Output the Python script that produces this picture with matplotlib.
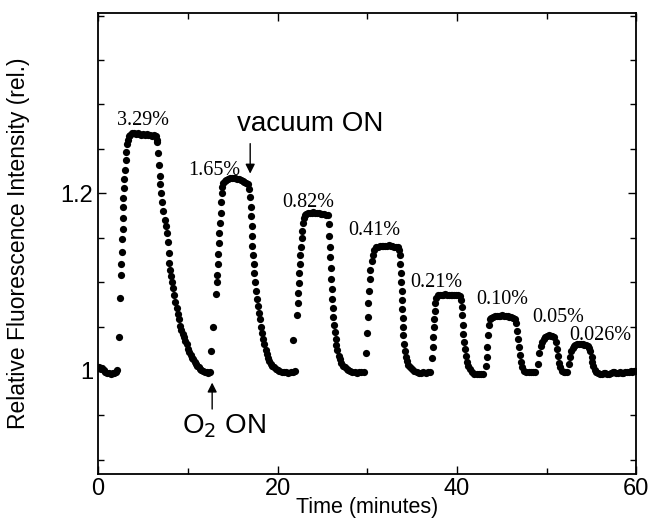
import matplotlib.pyplot as plt
from matplotlib.ticker import MultipleLocator
import numpy as np

# 数据 (time in minutes, relative fluorescence)
t_base = [0.0, 0.15, 0.3, 0.45, 0.6, 0.8, 1.0, 1.2, 1.4, 1.6, 1.8, 2.0, 2.15]
v_base = [1.003, 1.004, 1.002, 1.003, 1.001, 0.999, 0.998, 0.998, 0.997, 0.998, 0.998, 0.999, 1.001]

# pulse 1 (3.29%)
t_p1 = [2.3, 2.45, 2.55, 2.6, 2.65, 2.68, 2.72, 2.75, 2.78, 2.82, 2.88, 2.92, 2.98, 3.05, 3.12, 3.2, 3.3, 3.45,
        3.6, 3.8, 4.0, 4.2, 4.4, 4.6, 4.8, 5.0, 5.2, 5.4, 5.6, 5.8, 6.0, 6.2, 6.4, 6.55,
        6.6, 6.68, 6.76, 6.84, 6.92, 7.02, 7.14, 7.28, 7.4, 7.55, 7.65, 7.75, 7.85, 7.95, 8.05, 8.15, 8.25,
        8.38, 8.5, 8.62, 8.75, 8.88, 9.0, 9.14, 9.28, 9.42, 9.56, 9.7, 9.85, 10.0, 10.15, 10.3, 10.45, 10.6,
        10.75, 10.9, 11.05, 11.2, 11.35, 11.5, 11.7, 11.9, 12.1, 12.3, 12.5]
v_p1 = [1.038, 1.082, 1.108, 1.12, 1.134, 1.148, 1.16, 1.172, 1.184, 1.195, 1.206, 1.216, 1.226, 1.237, 1.247, 1.255, 1.26, 1.264,
        1.266, 1.268, 1.268, 1.267, 1.268, 1.267, 1.266, 1.267, 1.266, 1.267, 1.266, 1.266, 1.265, 1.266, 1.264, 1.26,
        1.258, 1.245, 1.232, 1.22, 1.21, 1.2, 1.19, 1.18, 1.17, 1.163, 1.155, 1.145, 1.133, 1.122, 1.114, 1.107, 1.1,
        1.093, 1.085, 1.078, 1.071, 1.064, 1.058, 1.051, 1.046, 1.042, 1.038, 1.034, 1.03, 1.025, 1.021, 1.018, 1.015, 1.013,
        1.01, 1.008, 1.006, 1.004, 1.002, 1.001, 1.0, 0.999, 0.999, 0.998, 0.999]

# pulse 2 (1.65%)
t_p2 = [12.6, 12.85, 13.15, 13.2, 13.3, 13.35, 13.4, 13.45, 13.5, 13.58, 13.65, 13.72, 13.78, 13.85, 13.95,
        14.1, 14.3, 14.5, 14.7, 14.9, 15.1, 15.3, 15.5, 15.7, 15.9, 16.1, 16.3, 16.5, 16.7,
        16.85, 16.95, 17.0, 17.05, 17.1, 17.15, 17.2, 17.27, 17.34, 17.42, 17.5, 17.6, 17.7, 17.8, 17.9, 18.0,
        18.12, 18.25, 18.38, 18.52, 18.66, 18.8, 18.95, 19.1, 19.25, 19.4, 19.6, 19.8, 20.0, 20.2, 20.45, 20.7,
        20.95, 21.2, 21.45, 21.7, 21.9]
v_p2 = [1.022, 1.05, 1.087, 1.1, 1.108, 1.12, 1.132, 1.144, 1.155, 1.166, 1.178, 1.19, 1.2, 1.207, 1.212,
        1.214, 1.215, 1.216, 1.217, 1.217, 1.217, 1.217, 1.216, 1.216, 1.215, 1.214, 1.213, 1.212, 1.21,
        1.205, 1.196, 1.185, 1.174, 1.163, 1.152, 1.141, 1.13, 1.12, 1.11, 1.1, 1.09, 1.081, 1.073, 1.065, 1.058,
        1.05, 1.043, 1.036, 1.03, 1.024, 1.019, 1.015, 1.011, 1.008, 1.006, 1.004, 1.002, 1.001, 1.0, 0.999, 0.999,
        0.999, 0.998, 0.999, 0.999, 1.0]

# pulse 3 (0.82%)
t_p3 = [21.75, 22.15, 22.25, 22.3, 22.35, 22.4, 22.45, 22.52, 22.6, 22.68, 22.76, 22.84, 22.92, 23.05,
        23.2, 23.4, 23.6, 23.8, 24.0, 24.2, 24.4, 24.6, 24.8, 25.0, 25.2, 25.4, 25.6,
        25.72, 25.78, 25.84, 25.9, 25.95, 26.0, 26.05, 26.1, 26.15, 26.22, 26.3, 26.38, 26.47, 26.57, 26.68,
        26.8, 26.95, 27.1, 27.3, 27.5, 27.7, 27.9, 28.1, 28.35, 28.6, 28.85, 29.1, 29.35, 29.6]
v_p3 = [1.035, 1.063, 1.077, 1.088, 1.099, 1.11, 1.12, 1.13, 1.14, 1.15, 1.158, 1.166, 1.172, 1.176,
        1.177, 1.178, 1.178, 1.178, 1.179, 1.178, 1.178, 1.178, 1.177, 1.177, 1.177, 1.176, 1.175,
        1.165, 1.152, 1.14, 1.128, 1.116, 1.104, 1.092, 1.081, 1.071, 1.061, 1.052, 1.044, 1.036, 1.029, 1.023,
        1.017, 1.013, 1.009, 1.006, 1.004, 1.002, 1.001, 1.0, 0.999, 0.999, 0.998, 0.999, 0.999, 0.999]

# pulse 4 (0.41%)
t_p4 = [29.85, 30.0, 30.05, 30.12, 30.2, 30.3, 30.36, 30.5, 30.65, 30.8,
        31.0, 31.2, 31.4, 31.6, 31.8, 32.0, 32.2, 32.4, 32.6, 32.8, 33.0, 33.2, 33.4, 33.55,
        33.65, 33.7, 33.74, 33.78, 33.82, 33.86, 33.9, 33.94, 33.98, 34.03, 34.1, 34.18, 34.28, 34.4, 34.55,
        34.75, 35.0, 35.25, 35.5, 35.75, 36.0, 36.25, 36.5, 36.75, 37.0]
v_p4 = [1.02, 1.043, 1.061, 1.077, 1.09, 1.103, 1.114, 1.124, 1.131, 1.136,
        1.139, 1.14, 1.141, 1.141, 1.141, 1.141, 1.141, 1.142, 1.141, 1.141, 1.14, 1.14, 1.139, 1.136,
        1.13, 1.12, 1.11, 1.1, 1.09, 1.08, 1.07, 1.06, 1.05, 1.04, 1.03, 1.022, 1.016, 1.011, 1.007,
        1.004, 1.002, 1.0, 0.999, 0.998, 0.998, 0.999, 0.998, 0.999, 0.999]

# pulse 5 (0.21%)
t_p5 = [37.2, 37.28, 37.35, 37.4, 37.46, 37.52, 37.6, 37.72,
        37.9, 38.1, 38.3, 38.5, 38.7, 38.9, 39.1, 39.3, 39.5, 39.7, 39.9, 40.1, 40.3, 40.45,
        40.55, 40.6, 40.66, 40.72, 40.8, 40.9, 41.0, 41.12, 41.25, 41.45, 41.7, 41.95, 42.2, 42.45, 42.7, 42.95]
v_p5 = [1.015, 1.027, 1.038, 1.05, 1.059, 1.068, 1.076, 1.082,
        1.085, 1.086, 1.086, 1.086, 1.087, 1.086, 1.086, 1.086, 1.086, 1.086, 1.085, 1.085, 1.084, 1.08,
        1.072, 1.063, 1.052, 1.042, 1.033, 1.025, 1.017, 1.01, 1.005, 1.002, 0.999, 0.997, 0.997, 0.996, 0.997, 0.997]

# pulse 6 (0.10%)
t_p6 = [43.2, 43.35, 43.4, 43.48, 43.58, 43.7,
        43.85, 44.05, 44.25, 44.45, 44.65, 44.85, 45.05, 45.25, 45.45, 45.65, 45.85, 46.05, 46.25, 46.45,
        46.6, 46.7, 46.8, 46.9, 47.0, 47.12, 47.28, 47.5, 47.75, 48.0, 48.25, 48.5, 48.75]
v_p6 = [1.006, 1.016, 1.027, 1.04, 1.052, 1.058,
        1.06, 1.061, 1.062, 1.062, 1.062, 1.062, 1.063, 1.062, 1.062, 1.062, 1.061, 1.061, 1.06, 1.058,
        1.054, 1.045, 1.036, 1.027, 1.018, 1.01, 1.004, 1.0, 0.999, 0.999, 0.999, 0.999, 0.999]

# pulse 7 (0.05%)
t_p7 = [49.0, 49.2, 49.35, 49.5, 49.65, 49.85, 50.05, 50.25, 50.45, 50.65, 50.85,
        51.05, 51.15, 51.25, 51.38, 51.52, 51.7, 51.9, 52.1, 52.3]
v_p7 = [1.008, 1.02, 1.028, 1.033, 1.036, 1.038, 1.039, 1.04, 1.039, 1.039, 1.038,
        1.033, 1.025, 1.017, 1.009, 1.004, 1.0, 0.999, 0.999, 0.999]

# pulse 8 (0.026%) and final baseline
t_p8 = [52.5, 52.62, 52.75, 52.9, 53.05, 53.2, 53.4, 53.6, 53.8, 54.0, 54.2, 54.4, 54.6, 54.75,
        54.88, 55.0, 55.1, 55.22, 55.38, 55.55, 55.75, 55.95, 56.15, 56.35, 56.55, 56.75, 56.95, 57.15,
        57.35, 57.55, 57.75, 57.95, 58.15, 58.35, 58.55, 58.75, 58.95, 59.15, 59.35, 59.55, 59.75, 59.9]
v_p8 = [1.008, 1.016, 1.022, 1.026, 1.028, 1.029, 1.03, 1.03, 1.03, 1.03, 1.029, 1.029, 1.028, 1.026,
        1.022, 1.016, 1.01, 1.005, 1.001, 0.999, 0.998, 0.997, 0.997, 0.998, 0.998, 0.997, 0.997, 0.998,
        0.999, 0.999, 0.998, 0.998, 0.999, 0.998, 0.998, 0.999, 0.999, 0.999, 1.0, 0.999, 1.0, 1.0]

conc_labels = ['3.29%', '1.65%', '0.82%', '0.41%', '0.21%', '0.10%', '0.05%', '0.026%']
label_x = [5.02, 12.94, 23.42, 30.78, 37.69, 45.05, 51.3, 55.98]
label_y = [1.277, 1.221, 1.185, 1.153, 1.095, 1.075, 1.055, 1.035]

t_all = np.concatenate([t_base, t_p1, t_p2, t_p3, t_p4, t_p5, t_p6, t_p7, t_p8])
v_all = np.concatenate([v_base, v_p1, v_p2, v_p3, v_p4, v_p5, v_p6, v_p7, v_p8])

plt.rcParams['font.family'] = ['Liberation Sans', 'DejaVu Sans']

fig = plt.figure(figsize=(6.5, 5.18), dpi=100)
# axes box: left 98 px, right 636 px, top 13 px, bottom 474 px
ax = fig.add_axes([0.151, 0.085, 0.828, 0.890])

ax.plot(t_all, v_all, 'o', color='black', ms=5.2, mec='black', mew=0)

for lab, x, y in zip(conc_labels, label_x, label_y):
    ax.text(x, y, lab, ha='center', va='baseline', fontsize=14.5, family='Liberation Serif')

# vacuum ON / O2 ON arrows
ax.annotate('', xy=(16.95, 1.219), xytext=(16.95, 1.259),
            arrowprops=dict(arrowstyle='-|>', color='black', lw=1.0, mutation_scale=14))
ax.text(15.5, 1.27, 'vacuum ON', ha='left', va='baseline', fontsize=20)
ax.annotate('', xy=(12.71, 0.99), xytext=(12.71, 0.954),
            arrowprops=dict(arrowstyle='-|>', color='black', lw=1.0, mutation_scale=14))
ax.text(9.37, 0.93, 'O$_2$ ON', ha='left', va='baseline', fontsize=20)

ax.set_xlim(0, 60)
ax.set_ylim(0.884, 1.403)
ax.set_xticks([0, 20, 40, 60])
ax.xaxis.set_minor_locator(MultipleLocator(10))
ax.set_yticks([1.0, 1.2])
ax.set_yticklabels(['1', '1.2'])
ax.yaxis.set_minor_locator(MultipleLocator(0.05))
ax.tick_params(which='both', direction='in', top=True, right=True, labelsize=17, width=1.0)
ax.tick_params(axis='x', which='major', pad=3)
ax.tick_params(which='major', length=6)
ax.tick_params(which='minor', length=4)
for s in ax.spines.values():
    s.set_linewidth(1.3)

ax.set_xlabel('Time (minutes)', fontsize=15.5, va='center')
ax.xaxis.set_label_coords(0.5, -0.072)
ax.set_ylabel('Relative Fluorescence Intensity (rel.)', fontsize=16.5, va='center')
ax.yaxis.set_label_coords(-0.148, 0.5)

plt.savefig('out.png', dpi=100)
